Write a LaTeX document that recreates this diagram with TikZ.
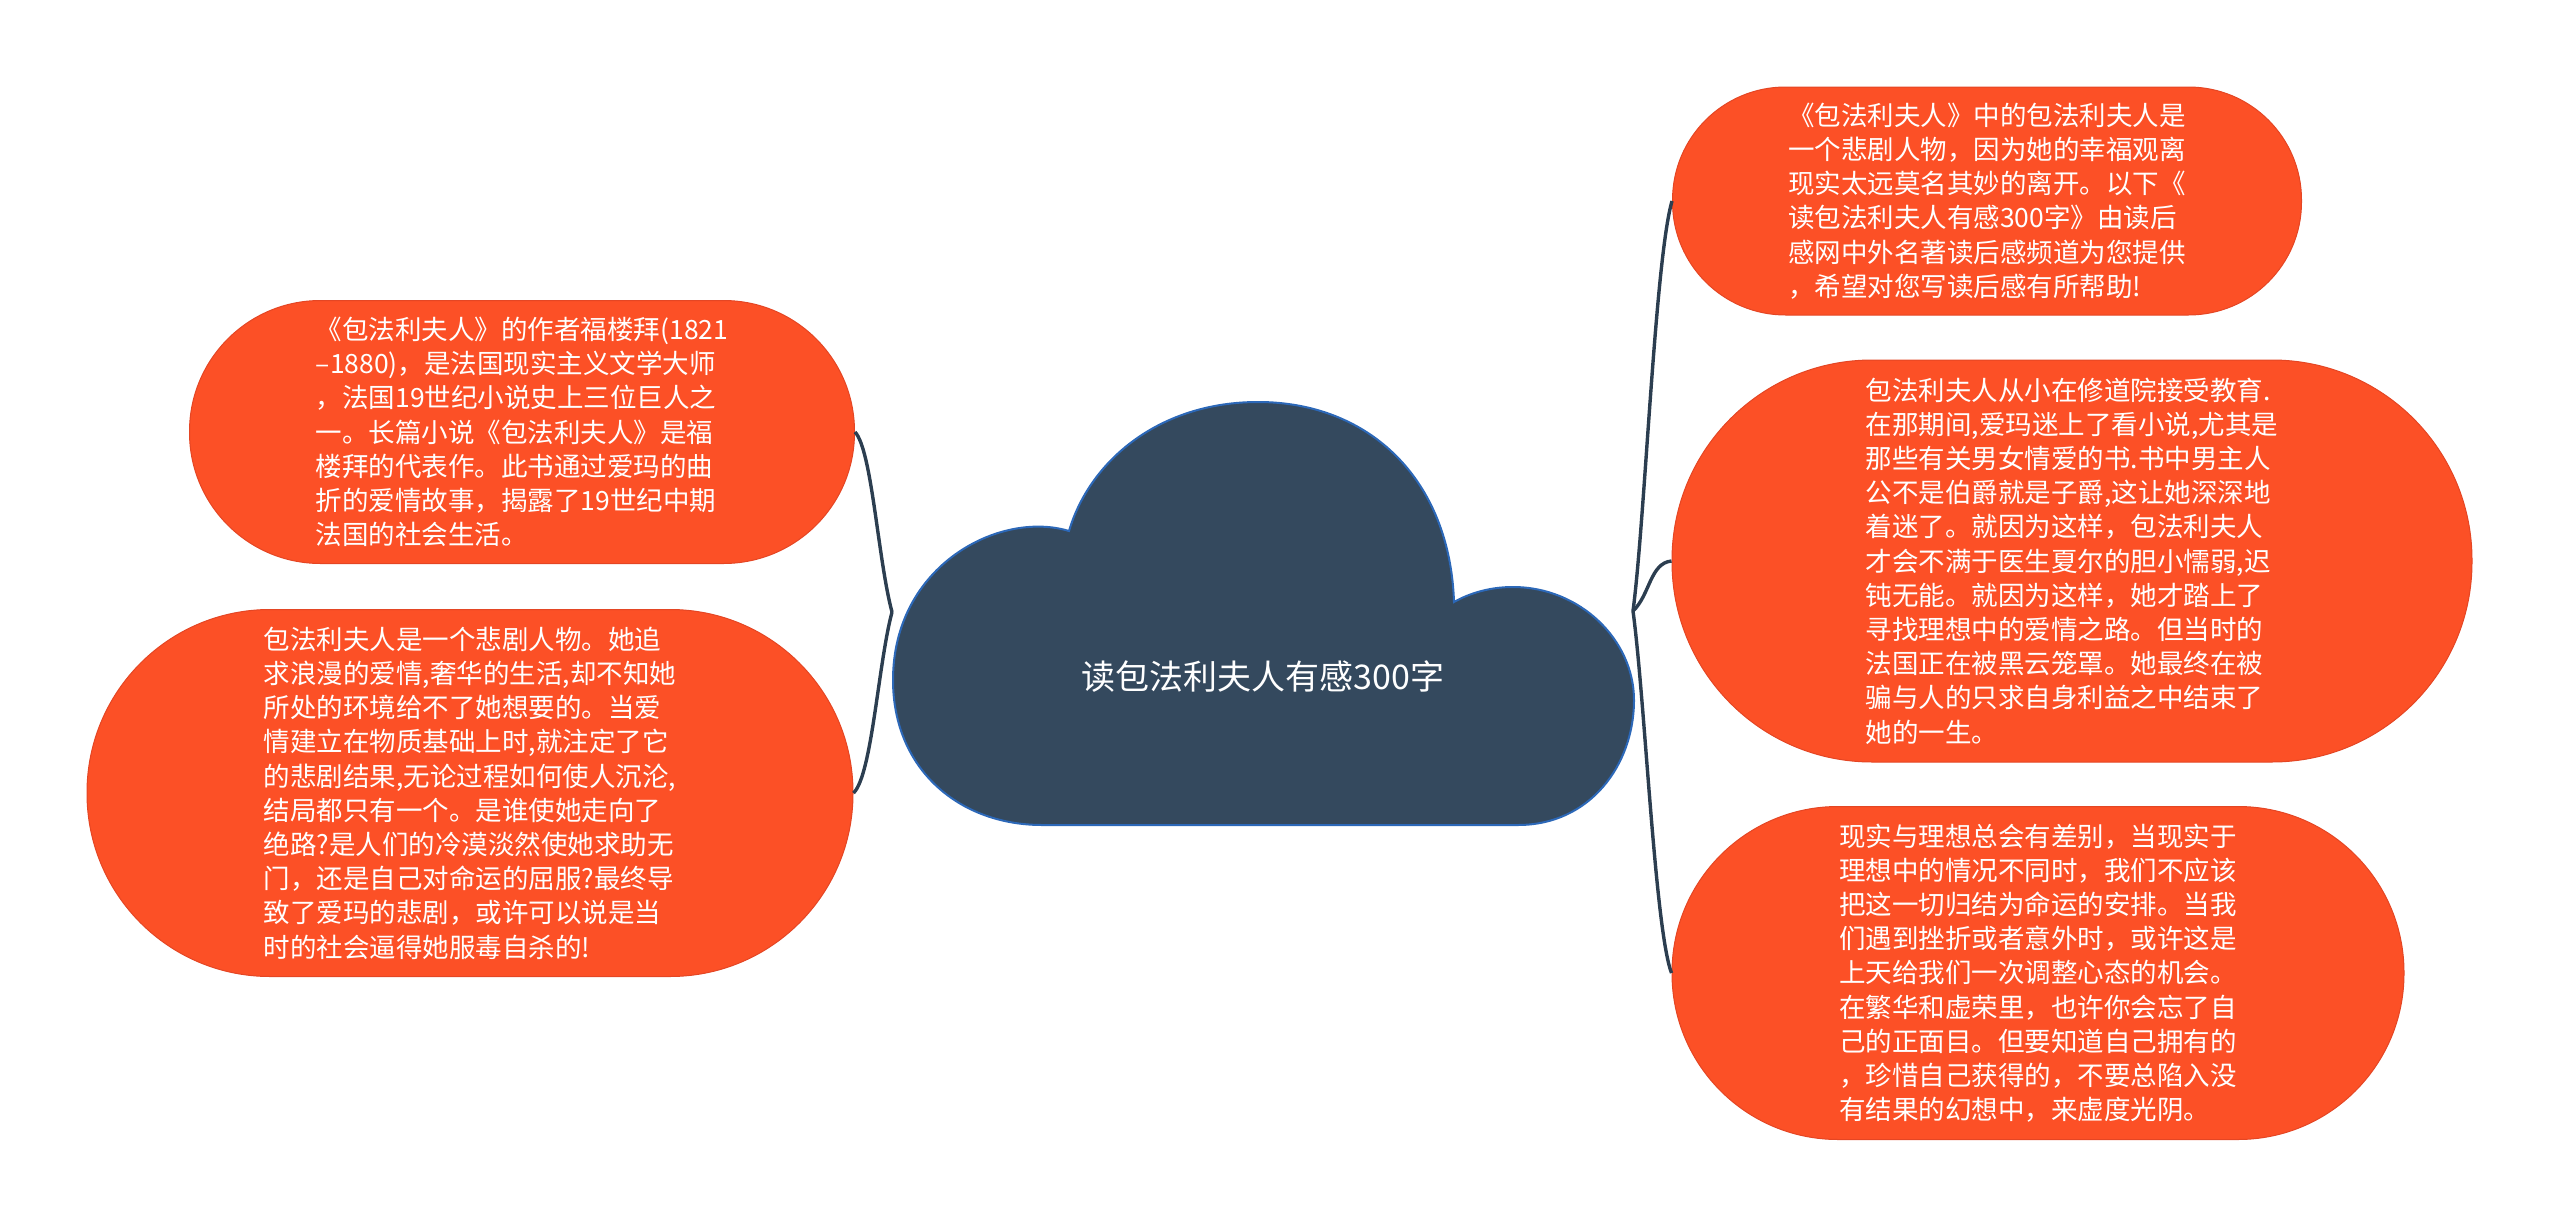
\documentclass[tikz,border=0pt]{standalone}
\usepackage{fontspec}
\setmainfont{Noto Sans CJK SC}
\usetikzlibrary{positioning}

\definecolor{bubblefill}{RGB}{252,80,38}
\definecolor{bubbleedge}{RGB}{228,70,36}
\definecolor{cloudfill}{RGB}{52,73,94}
\definecolor{cloudedge}{RGB}{44,104,184}
\definecolor{linkcol}{RGB}{44,62,80}

\begin{document}
\begin{tikzpicture}[
    x=1pt, y=-1pt,
    bubble/.style={draw=bubbleedge, line width=1pt, fill=bubblefill, text=white, align=left, inner sep=0pt, font=\fontsize{26.5}{34.2}\selectfont},
    titletext/.style={text=white, font=\fontsize{34}{40}\selectfont},
    link/.style={draw=linkcol, line width=3.4pt},
]
\useasboundingbox (0,0) rectangle (2560,1226);

% Centre cloud
\filldraw[fill=cloudfill, draw=cloudedge, line width=2pt]
  (1042,825) -- (1518,825)
  .. controls (1590,825) and (1634,765) .. (1634,700)
  .. controls (1634,640) and (1580,587) .. (1513,587)
  .. controls (1490,587) and (1470,593) .. (1454,602)
  .. controls (1450,480) and (1370,402) .. (1258,402)
  .. controls (1160,402) and (1090,460) .. (1069,531)
  .. controls (1000,510) and (893,565) .. (893,680)
  .. controls (893,770) and (960,825) .. (1042,825) -- cycle;
\node[titletext] (title) at (1263,677) {读包法利夫人有感300字};
\coordinate (hubL) at (892,612);
\coordinate (hubR) at (1633,611);

% Left branch
\node[bubble, minimum width=665pt, minimum height=263pt, rounded corners=131pt] (author) at (522,432)
  {《包法利夫人》的作者福楼拜(1821\\–1880)，是法国现实主义文学大师\\，法国19世纪小说史上三位巨人之\\一。长篇小说《包法利夫人》是福\\楼拜的代表作。此书通过爱玛的曲\\折的爱情故事，揭露了19世纪中期\\法国的社会生活。};
\node[bubble, minimum width=766pt, minimum height=367pt, rounded corners=183pt] (tragedy) at (470,793)
  {包法利夫人是一个悲剧人物。她追\\求浪漫的爱情,奢华的生活,却不知她\\所处的环境给不了她想要的。当爱\\情建立在物质基础上时,就注定了它\\的悲剧结果,无论过程如何使人沉沦,\\结局都只有一个。是谁使她走向了\\绝路?是人们的冷漠淡然使她求助无\\门，还是自己对命运的屈服?最终导\\致了爱玛的悲剧，或许可以说是当\\时的社会逼得她服毒自杀的!};

% Right branch
\node[bubble, minimum width=629pt, minimum height=228pt, rounded corners=113pt] (intro) at (1987,201)
  {《包法利夫人》中的包法利夫人是\\一个悲剧人物，因为她的幸福观离\\现实太远莫名其妙的离开。以下《\\读包法利夫人有感300字》由读后\\感网中外名著读后感频道为您提供\\，希望对您写读后感有所帮助!};
\node[bubble, minimum width=800pt, minimum height=402pt, rounded corners=200pt] (convent) at (2072,561)
  {包法利夫人从小在修道院接受教育.\\在那期间,爱玛迷上了看小说,尤其是\\那些有关男女情爱的书.书中男主人\\公不是伯爵就是子爵,这让她深深地\\着迷了。就因为这样，包法利夫人\\才会不满于医生夏尔的胆小懦弱,迟\\钝无能。就因为这样，她才踏上了\\寻找理想中的爱情之路。但当时的\\法国正在被黑云笼罩。她最终在被\\骗与人的只求自身利益之中结束了\\她的一生。};
\node[bubble, minimum width=732pt, minimum height=333pt, rounded corners=166pt] (reality) at (2038,973)
  {现实与理想总会有差别，当现实于\\理想中的情况不同时，我们不应该\\把这一切归结为命运的安排。当我\\们遇到挫折或者意外时，或许这是\\上天给我们一次调整心态的机会。\\在繁华和虚荣里，也许你会忘了自\\己的正面目。但要知道自己拥有的\\，珍惜自己获得的，不要总陷入没\\有结果的幻想中，来虚度光阴。};

% Connectors
\draw[link] (hubL) .. controls (878,560) and (872,450) .. (author.east);
\draw[link] (hubL) .. controls (878,665) and (872,775) .. (tragedy.east);
\draw[link] (hubR) .. controls (1645,520) and (1655,260) .. (intro.west);
\draw[link] (hubR) .. controls (1650,595) and (1650,563) .. (convent.west);
\draw[link] (hubR) .. controls (1645,700) and (1655,930) .. (reality.west);

\end{tikzpicture}
\end{document}
